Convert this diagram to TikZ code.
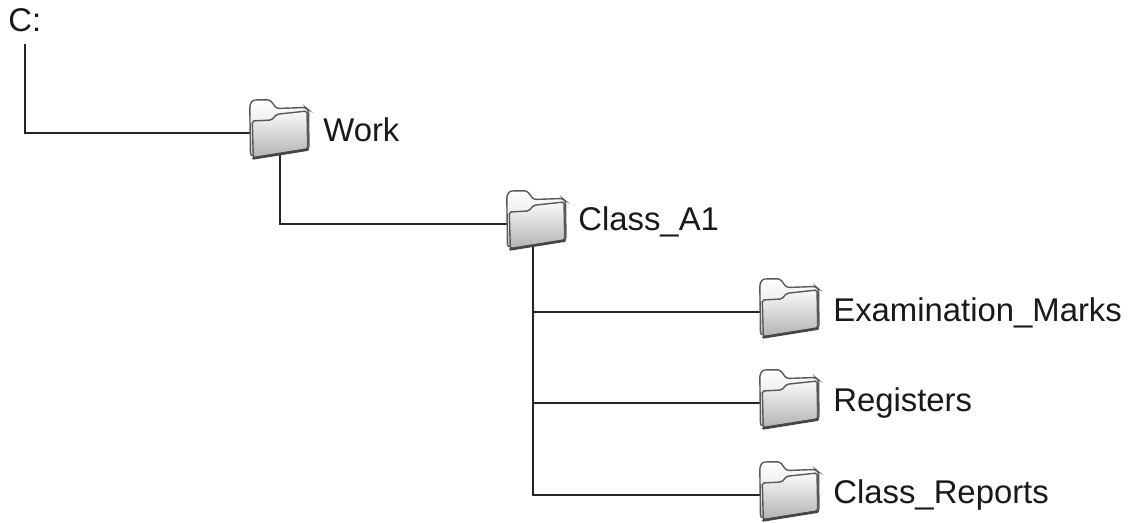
\documentclass[tikz,border=0pt]{standalone}
\usepackage{fontspec}
\setmainfont{Liberation Sans}
\usetikzlibrary{positioning, calc, backgrounds}

\tikzset{
    folder/.style={minimum width=1.28cm, minimum height=1.36cm, inner sep=0pt},
    pics/foldericon/.style={code={
        \begin{scope}[shift={(-31,-34)}]
            % back of the folder with its tab
            \draw[top color=white, bottom color=gray!35, draw=gray!70!black, line width=0.8pt, rounded corners=1.5pt]
                (1.5,57) -- (0.8,6) -- (3.5,1) -- (21,0.8) -- (27.5,9.5) -- (56.5,8.5) -- (59.5,11) -- (60,50) -- cycle;
            % front flap
            \draw[top color=gray!4, bottom color=gray!60, draw=gray!70!black, line width=0.8pt, rounded corners=1pt]
                (3.3,22) -- (22.7,21) -- (27.7,15.3) -- (58,12) -- (58.7,50) -- (4.3,58.7) -- cycle;
            \draw[gray!55!black, line width=1.5pt, line cap=round] (58.7,50.6) -- (4.3,59.3);
        \end{scope}}},
    dirlabel/.style={anchor=base west, inner sep=0pt, text=black!90, font=\fontsize{18.7}{22}\selectfont},
    tree/.style={draw=black!85, line width=0.9pt}
}

\begin{document}
\begin{tikzpicture}[x=0.02cm, y=-0.02cm]
    \useasboundingbox (0,0) rectangle (1129,523);

    \node[dirlabel] (drive) at (8,32) {C:};

    \node[folder] (work) at (280,133) {};
    \node[folder] (classa) at (537,224) {};
    \node[folder] (exam) at (790,312) {};
    \node[folder] (regs) at (790,403) {};
    \node[folder] (reps) at (790,495) {};
    \foreach \f in {work, classa, exam, regs, reps}
        \pic at (\f) {foldericon};

    \node[dirlabel] (worklbl) at (323,142) {Work};
    \node[dirlabel] (classalbl) at (578,231) {Class\_A1};
    \node[dirlabel] (examlbl) at (833,322) {Examination\_Marks};
    \node[dirlabel] (regslbl) at (833,412) {Registers};
    \node[dirlabel] (repslbl) at (833,503) {Class\_Reports};

    \begin{scope}[on background layer]
        \draw[tree] ([yshift=-0.22cm]drive.south) |- (work.center);
        \draw[tree] (work.center) |- (classa.center);
        \draw[tree] ([xshift=-0.08cm]classa.center) |- (exam.center);
        \draw[tree] ([xshift=-0.08cm]classa.center) |- (regs.center);
        \draw[tree] ([xshift=-0.08cm]classa.center) |- (reps.center);
    \end{scope}
\end{tikzpicture}
\end{document}
